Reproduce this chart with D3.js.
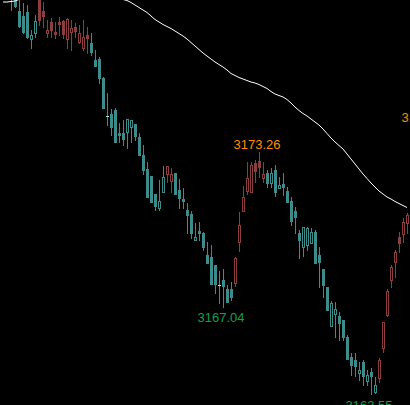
<!DOCTYPE html>
<html>
<head>
<meta charset="utf-8">
<script src="https://cdn.jsdelivr.net/npm/d3@7"></script>
<style>
  html, body { margin: 0; padding: 0; background: #000; overflow: hidden; }
  svg { display: block; }
  .pivot { font-family: "Liberation Sans", Arial, sans-serif; font-size: 13px; }
</style>
</head>
<body>
<svg id="chart" width="410" height="405"></svg>
<script>
// OHLC per bar (bar index = position on screen)
var open = [3180.53, 3180.21, 3179.93, 3179.45, 3178.89, 3178.69, 3178.85, 3177.77, 3178.01, 3179.37,
  3178.89, 3178.01, 3178.45, 3178.05, 3178.45, 3178.49, 3177.77, 3178.05, 3178.25, 3177.65,
  3177.41, 3177.93, 3177.61, 3176.93, 3176.97, 3176.21, 3174.69, 3174.77, 3174.93, 3174.01,
  3174.01, 3174.05, 3174.25, 3174.37, 3173.85, 3173.13, 3172.57, 3172.29, 3171.57, 3171.01,
  3171.65, 3172.37, 3172.09, 3172.41, 3171.73, 3171.37, 3170.93, 3170.77, 3169.73, 3170.09,
  3170.01, 3169.13, 3169.05, 3168.73, 3167.93, 3168.13, 3167.77, 3167.77, 3168.01, 3169.65,
  3170.89, 3171.69, 3171.65, 3172.81, 3172.89, 3172.21, 3172.41, 3172.01, 3172.53, 3171.81,
  3171.97, 3171.69, 3171.29, 3170.89, 3170.01, 3169.45, 3169.53, 3169.61, 3170.05, 3169.13,
  3168.57, 3167.85, 3166.29, 3166.77, 3166.69, 3166.53, 3165.85, 3165.05, 3164.93, 3164.41,
  3164.85, 3164.09, 3164.45, 3163.65, 3164.21, 3165.41, 3166.73, 3168.13, 3168.85, 3169.85,
  3169.97, 3170.41];
var high = [3180.73, 3180.37, 3180.05, 3179.49, 3179.33, 3179.21, 3179.13, 3178.13, 3178.73, 3179.49,
  3179.25, 3178.53, 3178.61, 3178.45, 3178.65, 3178.53, 3178.61, 3178.53, 3178.41, 3178.33,
  3178.53, 3178.25, 3178.01, 3177.33, 3177.05, 3176.25, 3175.61, 3174.97, 3175.01, 3174.41,
  3174.53, 3174.57, 3174.53, 3174.37, 3174.01, 3173.53, 3172.85, 3172.29, 3171.57, 3172.13,
  3172.69, 3172.69, 3172.61, 3172.41, 3172.17, 3171.81, 3171.21, 3170.89, 3170.41, 3170.45,
  3170.05, 3169.65, 3169.53, 3168.73, 3168.49, 3168.57, 3167.93, 3168.05, 3169.05, 3170.85,
  3171.89, 3172.85, 3172.85, 3172.93, 3173.26, 3172.85, 3172.53, 3172.61, 3172.73, 3172.25,
  3172.41, 3171.85, 3171.45, 3171.05, 3170.13, 3170.25, 3170.25, 3170.21, 3170.13, 3169.45,
  3168.57, 3167.85, 3167.29, 3167.25, 3166.85, 3166.53, 3165.93, 3165.21, 3165.21, 3164.85,
  3164.93, 3164.53, 3164.61, 3164.25, 3165.01, 3166.45, 3167.77, 3168.73, 3169.33, 3170.05,
  3170.61, 3170.81];
var low = [3180.05, 3179.65, 3178.93, 3179.05, 3178.25, 3178.01, 3177.81, 3177.41, 3177.85, 3178.33,
  3178.25, 3177.85, 3177.85, 3177.81, 3177.93, 3177.81, 3177.41, 3177.33, 3177.85, 3177.61,
  3177.33, 3177.21, 3177.13, 3176.69, 3176.01, 3175.01, 3174.33, 3173.93, 3173.65, 3173.65,
  3173.53, 3173.41, 3173.65, 3173.73, 3173.13, 3172.37, 3171.45, 3171.25, 3170.93, 3170.93,
  3171.65, 3172.05, 3171.65, 3171.57, 3171.01, 3171.01, 3170.01, 3169.81, 3169.73, 3169.73,
  3169.33, 3168.81, 3167.97, 3167.61, 3167.21, 3167.04, 3167.25, 3167.33, 3167.89, 3169.29,
  3170.89, 3171.57, 3171.65, 3172.05, 3172.25, 3172.05, 3171.85, 3171.85, 3171.49, 3171.81,
  3171.53, 3171.25, 3170.33, 3170.01, 3169.01, 3169.09, 3169.33, 3169.61, 3168.81, 3167.85,
  3167.45, 3166.93, 3166.29, 3165.85, 3165.73, 3165.73, 3164.97, 3164.33, 3164.29, 3164.13,
  3163.93, 3163.93, 3163.55, 3163.61, 3164.05, 3165.25, 3166.69, 3167.85, 3168.25, 3169.25,
  3169.65, 3170.01];
var close = [3180.21, 3179.81, 3179.49, 3179.09, 3178.29, 3178.05, 3177.85, 3177.93, 3178.49, 3178.53,
  3178.69, 3178.13, 3178.13, 3177.97, 3178.37, 3177.97, 3178.57, 3178.21, 3178.09, 3178.01,
  3177.85, 3177.81, 3177.25, 3176.69, 3176.21, 3175.01, 3174.69, 3174.25, 3173.65, 3173.93,
  3173.77, 3174.57, 3174.53, 3173.89, 3173.13, 3172.53, 3171.45, 3171.25, 3171.09, 3171.29,
  3172.25, 3172.69, 3172.37, 3171.57, 3171.41, 3171.29, 3170.73, 3170.01, 3169.85, 3170.01,
  3169.45, 3168.81, 3167.97, 3167.97, 3167.93, 3167.89, 3167.25, 3167.45, 3169.01, 3170.33,
  3171.45, 3172.21, 3172.73, 3172.49, 3172.65, 3172.37, 3172.01, 3172.41, 3171.65, 3171.93,
  3171.85, 3171.25, 3170.49, 3170.65, 3169.73, 3170.25, 3170.21, 3170.05, 3168.81, 3168.85,
  3167.93, 3166.93, 3167.21, 3166.97, 3166.41, 3165.85, 3164.97, 3164.73, 3164.69, 3164.53,
  3164.29, 3164.33, 3164.29, 3163.93, 3164.93, 3166.45, 3167.69, 3168.65, 3169.25, 3169.61,
  3170.45, 3170.73];

// moving average under the price
var movingAvg = [3179.25, 3179.25, 3179.27, 3179.29, 3179.35, 3179.41, 3179.47, 3179.53, 3179.57, 3179.61,
  3179.65, 3179.67, 3179.69, 3179.71, 3179.73, 3179.73, 3179.73, 3179.73, 3179.73, 3179.71,
  3179.69, 3179.67, 3179.65, 3179.61, 3179.57, 3179.53, 3179.49, 3179.45, 3179.43, 3179.39,
  3179.35, 3179.31, 3179.23, 3179.13, 3179.03, 3178.93, 3178.83, 3178.69, 3178.55, 3178.45,
  3178.35, 3178.27, 3178.19, 3178.09, 3177.99, 3177.89, 3177.77, 3177.63, 3177.49, 3177.35,
  3177.21, 3177.09, 3176.97, 3176.85, 3176.75, 3176.65, 3176.53, 3176.39, 3176.31, 3176.23,
  3176.17, 3176.11, 3176.05, 3176.01, 3175.95, 3175.87, 3175.79, 3175.67, 3175.57, 3175.51,
  3175.45, 3175.35, 3175.21, 3175.05, 3174.91, 3174.79, 3174.69, 3174.57, 3174.45, 3174.33,
  3174.17, 3173.99, 3173.81, 3173.65, 3173.51, 3173.37, 3173.17, 3172.97, 3172.77, 3172.57,
  3172.37, 3172.19, 3172.01, 3171.85, 3171.69, 3171.57, 3171.45, 3171.37, 3171.27, 3171.19,
  3171.11, 3171.03];

// bars painted in the "up" colour (swing direction)
var upRuns = [[9, 21], [41, 42], [58, 65], [94, 101]];

// swing labels
var pivotIndex = [55, 64, 92, 106];
var pivotValue = [3167.04, 3173.26, 3163.55, 3174.33];
var pivotKind = ["low", "high", "low", "high"];

var W = 410, H = 405;
var UP = "#8c3d3d", DOWN = "#3d8c8c", DOJI = "#9fefef";

var svg = d3.select("#chart");
svg.append("rect").attr("width", W).attr("height", H).attr("fill", "#000");

var x = d3.scaleLinear().domain([0, 101]).range([3, 407]);
var y = d3.scaleLinear().domain([3163.13, 3179.33]).range([H, 0]);

var bars = open.map(function (o, i) {
  return {i: i, o: o, h: high[i], l: low[i], c: close[i]};
});

var isUp = function (i) {
  return upRuns.some(function (r) {return i >= r[0] && i <= r[1];});
};

var g = svg.append("g");

var bar = g.selectAll("g.bar").
data(bars).
enter().append("g").
attr("class", "bar").
attr("transform", function (d) {return "translate(" + Math.round(x(d.i)) + ",0)";});

bar.append("line").
attr("x1", 0.5).
attr("x2", 0.5).
attr("y1", function (d) {return Math.round(y(d.h));}).
attr("y2", function (d) {return Math.round(y(d.l)) + 1;}).
attr("stroke", function (d) {return isUp(d.i) ? UP : DOWN;}).
attr("stroke-width", 1);

bar.each(function (d) {
  var el = d3.select(this);
  var col = isUp(d.i) ? UP : DOWN;
  var top = Math.round(y(Math.max(d.o, d.c)));
  var bot = Math.round(y(Math.min(d.o, d.c)));
  if (d.o === d.c) {
    el.append("rect").
    attr("x", -1).attr("y", top).
    attr("width", 3).attr("height", 1).
    attr("fill", DOJI);
  } else if (d.c > d.o) {
    // rising bar: hollow body
    el.append("rect").
    attr("x", -0.5).attr("y", top + 0.5).
    attr("width", 2).attr("height", Math.max(bot - top, 1)).
    attr("fill", "#000").
    attr("stroke", col).
    attr("stroke-width", 1);
  } else {
    el.append("rect").
    attr("x", -1).attr("y", top).
    attr("width", 3).attr("height", Math.max(bot - top, 1) + 1).
    attr("fill", col);
  }
});

var maLine = d3.line().
x(function (d, i) {return x(i);}).
y(function (d) {return y(d);});

svg.append("path").
datum(movingAvg).
attr("d", maLine).
attr("fill", "none").
attr("stroke", "#fff").
attr("stroke-width", 1);

svg.selectAll("text.pivot").
data(pivotIndex).
enter().append("text").
attr("class", "pivot").
attr("text-anchor", "middle").
attr("x", function (d) {return x(d) - 2;}).
attr("y", function (d, k) {
  return pivotKind[k] === "high" ? y(pivotValue[k]) - 3 : y(pivotValue[k]) + 15;
}).
attr("fill", function (d, k) {return pivotKind[k] === "high" ? "#ff8c00" : "#12a04c";}).
text(function (d, k) {return pivotValue[k].toFixed(2);});
</script>
</body>
</html>
